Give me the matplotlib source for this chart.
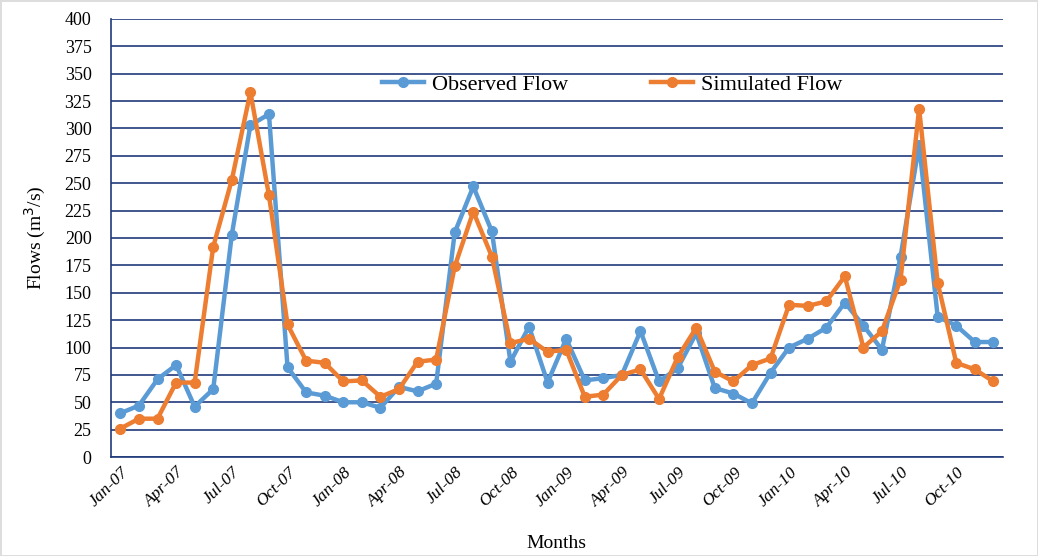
import numpy as np
import matplotlib
matplotlib.use("Agg")
import matplotlib.pyplot as plt

months = ["Jan", "Feb", "Mar", "Apr", "May", "Jun",
          "Jul", "Aug", "Sep", "Oct", "Nov", "Dec"]
years = ["07", "08", "09", "10"]
labels = [m + "-" + y for y in years for m in months]

observed = [40, 47, 71, 84, 46, 62, 203, 303, 313, 82, 59, 56,
            50, 50, 45, 64, 60, 67, 205, 247, 206, 87, 119, 68,
            108, 70, 72, 75, 115, 69, 81, 113, 63, 58, 49, 77,
            100, 108, 118, 141, 120, 98, 183, 285, 128, 120, 105, 105]
simulated = [26, 35, 35, 68, 68, 192, 253, 333, 239, 121, 88, 86,
             69, 70, 55, 62, 87, 89, 174, 224, 183, 104, 108, 96,
             98, 55, 57, 75, 80, 53, 91, 118, 78, 69, 84, 90,
             139, 138, 142, 165, 100, 115, 162, 318, 159, 86, 80, 69]

plt.rcParams['font.family'] = ['Liberation Serif', 'DejaVu Serif']

navy = "#1F3A7A"
fig = plt.figure(figsize=(10.38, 5.56), dpi=100)
fig.patch.set_edgecolor("#DDDDDD")
fig.patch.set_linewidth(2)
ax = fig.add_axes([0.107, 0.178, 0.859, 0.788])

x = np.arange(len(labels))
ax.plot(x, observed, color="#5B9BD5", lw=3.2, marker="o", ms=7,
        label="Observed Flow")
ax.plot(x, simulated, color="#ED7D31", lw=3.2, marker="o", ms=7,
        label="Simulated Flow")

ax.set_xlim(-0.5, len(labels) - 0.5)
ax.set_ylim(0, 400)
ax.set_yticks(np.arange(0, 401, 25))
ax.yaxis.grid(True, color=navy, lw=1.2)
ax.set_axisbelow(True)
ax.set_xticks(x[::3])
ax.set_xticklabels(labels[::3], rotation=45, ha="right",
                   rotation_mode="anchor", style="italic", fontsize=12.5)
ax.tick_params(axis="y", labelsize=13, length=0, pad=14)
ax.tick_params(axis="x", length=0, pad=5)
for s in ["top", "right"]:
    ax.spines[s].set_visible(False)
ax.spines["left"].set_color(navy)
ax.spines["bottom"].set_color(navy)
ax.spines["left"].set_linewidth(1.2)
ax.spines["bottom"].set_linewidth(1.2)

ax.set_xlabel("Months", fontsize=14, labelpad=18)
ax.set_ylabel("Flows (m$^3$/s)", fontsize=14, labelpad=12)
ax.legend(loc="center", bbox_to_anchor=(0.562, 0.85), ncol=2,
          frameon=False, fontsize=16, columnspacing=3.7,
          handlelength=1.9, handletextpad=0.35)

fig.savefig("out.png", dpi=100)
